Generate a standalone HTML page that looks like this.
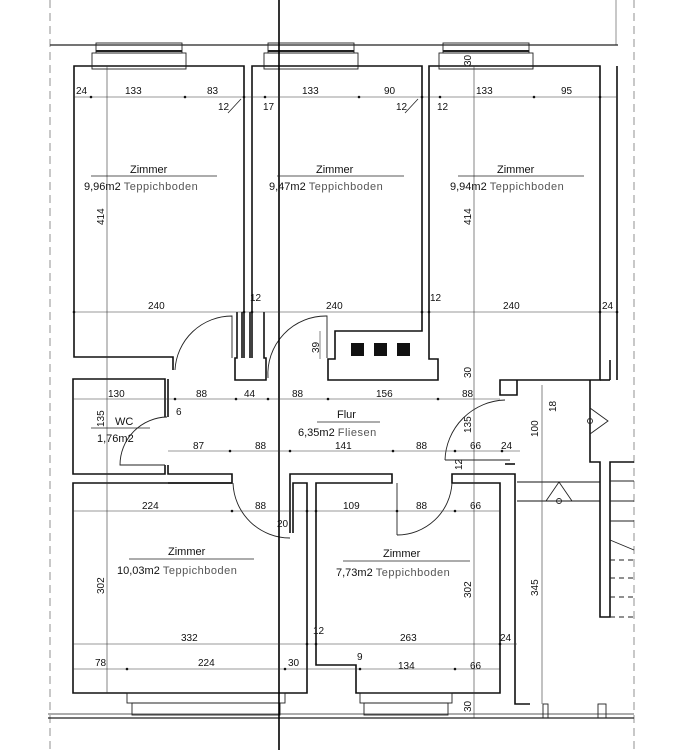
<!DOCTYPE html>
<html><head><meta charset="utf-8"><style>
html,body{margin:0;padding:0;background:#fff}
svg{display:block}
text{font-family:"Liberation Sans",sans-serif;fill:#111}
.t{font-size:11px}
.g{font-size:11px;fill:#555;letter-spacing:.5px}
.d{font-size:10px}
</style></head><body>
<svg width="684" height="750" viewBox="0 0 684 750" xmlns="http://www.w3.org/2000/svg">
<g fill="none" stroke="#222" stroke-width="0.8">
<line x1="50" y1="0" x2="50" y2="750" stroke-dasharray="8,5" stroke="#777"/>
<line x1="634" y1="0" x2="634" y2="750" stroke-dasharray="8,5" stroke="#777"/>
<line x1="616" y1="0" x2="616" y2="45" stroke="#777"/>
<line x1="50" y1="45" x2="618" y2="45" stroke-width="1.2"/>
<line x1="48" y1="718" x2="634" y2="718" stroke-width="1.2"/>
<line x1="48" y1="714" x2="634" y2="714"/>
</g>
<g fill="none" stroke="#111" stroke-width="1.6">
<polyline points="173,370 173,357 74,357 74,66 244,66 244,358"/>
<polyline points="252,358 252,66 422,66 422,331 335,331 335,359 328,359 328,380 438,380 438,359 429,359 429,66 600,66 600,380 500,380 500,395 517,395 517,380"/>
<line x1="617" y1="66" x2="617" y2="380"/>
<line x1="600" y1="380" x2="610" y2="380"/>
<line x1="610" y1="360" x2="610" y2="380"/>
<polyline points="237,312 237,358 235,358 235,380 266,380 266,358 264,358 264,312"/>
<line x1="242" y1="312" x2="242" y2="358"/>
<line x1="250" y1="312" x2="250" y2="358"/>
<polyline points="165,417 165,379 73,379 73,474 165,474 165,465"/>
<polyline points="168,417 168,379"/>
<polyline points="168,465 168,474 232,474 232,483 168,483"/>
<polyline points="290,533 290,474 392,474 392,483 316,483 316,665 356,665 356,693 500,693 500,483 452,483 452,474 515,474 515,704 530,704"/>
<polyline points="293,533 293,483 297,483"/>
<line x1="505" y1="464" x2="515" y2="464"/>
<polyline points="232,483 73,483 73,693 307,693 307,483 297,483"/>
<polyline points="590,380 590,462 600,462 600,617 610,617 610,462 634,462"/>
<line x1="517" y1="482" x2="600" y2="482" stroke-width="1"/>
<line x1="517" y1="501" x2="600" y2="501" stroke-width="1"/>
</g>
<g fill="none" stroke="#222" stroke-width="0.9">
<line x1="610" y1="481" x2="634" y2="481"/><line x1="610" y1="501" x2="634" y2="501"/><line x1="610" y1="521" x2="634" y2="521"/>
<line x1="610" y1="540" x2="634" y2="550"/>
<line x1="610" y1="560" x2="634" y2="560" stroke-dasharray="5,4"/><line x1="610" y1="578" x2="634" y2="578" stroke-dasharray="5,4"/><line x1="610" y1="597" x2="634" y2="597" stroke-dasharray="5,4"/><line x1="610" y1="617" x2="634" y2="617" stroke-dasharray="5,4"/>
<polyline points="590,408 608,421 590,434"/><circle cx="590" cy="421" r="2.5"/>
<polyline points="546,501 559,482 572,501"/><circle cx="559" cy="501" r="2.5"/>
<rect x="92" y="53" width="94" height="16"/><rect x="96" y="43" width="86" height="10"/><line x1="96" y1="51" x2="182" y2="51" stroke-width="2"/>
<rect x="264" y="53" width="94" height="16"/><rect x="268" y="43" width="86" height="10"/><line x1="268" y1="51" x2="354" y2="51" stroke-width="2"/>
<rect x="439" y="53" width="94" height="16"/><rect x="443" y="43" width="86" height="10"/><line x1="443" y1="51" x2="529" y2="51" stroke-width="2"/>
<rect x="127" y="693" width="158" height="10"/><rect x="132" y="703" width="148" height="12"/>
<rect x="360" y="693" width="92" height="10"/><rect x="364" y="703" width="84" height="12"/>
<rect x="543" y="704" width="5" height="14"/>
<rect x="598" y="704" width="8" height="14"/>
<path d="M175,370 A57,57 0 0 1 232,316 L232,358"/>
<path d="M268,378 A58,58 0 0 1 327,316 L327,358"/>
<path d="M167,417 A48,48 0 0 0 120,465 L165,465"/>
<path d="M445,460 A62,62 0 0 1 505,400"/><line x1="445" y1="460" x2="510" y2="460"/>
<path d="M233,483 A57,57 0 0 0 290,538"/>
<path d="M397,535 A55,55 0 0 0 452,483"/><line x1="397" y1="483" x2="397" y2="535"/>
</g>
<rect x="351" y="343" width="13" height="13" fill="#111"/>
<rect x="374" y="343" width="13" height="13" fill="#111"/>
<rect x="397" y="343" width="13" height="13" fill="#111"/>
<line x1="279" y1="0" x2="279" y2="750" stroke="#000" stroke-width="1.6"/>
<g stroke="#333" stroke-width="0.6" fill="none">
<line x1="74" y1="97" x2="617" y2="97"/>
<line x1="74" y1="312" x2="617" y2="312"/>
<line x1="73" y1="399" x2="500" y2="399"/>
<line x1="168" y1="451" x2="520" y2="451"/>
<line x1="73" y1="511" x2="500" y2="511"/>
<line x1="73" y1="644" x2="517" y2="644"/>
<line x1="73" y1="669" x2="500" y2="669"/>
<line x1="107" y1="66" x2="107" y2="693"/>
<line x1="474" y1="66" x2="474" y2="718"/>
<line x1="542" y1="385" x2="542" y2="704"/>
<line x1="320" y1="331" x2="320" y2="359"/>
</g>
<g fill="#111">
<circle cx="91" cy="97" r="1.3"/><circle cx="185" cy="97" r="1.3"/><circle cx="244" cy="97" r="1.3"/><circle cx="265" cy="97" r="1.3"/><circle cx="359" cy="97" r="1.3"/><circle cx="422" cy="97" r="1.3"/><circle cx="440" cy="97" r="1.3"/><circle cx="534" cy="97" r="1.3"/><circle cx="600" cy="97" r="1.3"/>
<circle cx="74" cy="312" r="1.3"/><circle cx="244" cy="312" r="1.3"/><circle cx="252" cy="312" r="1.3"/><circle cx="422" cy="312" r="1.3"/><circle cx="429" cy="312" r="1.3"/><circle cx="600" cy="312" r="1.3"/><circle cx="617" cy="312" r="1.3"/>
<circle cx="175" cy="399" r="1.3"/><circle cx="236" cy="399" r="1.3"/><circle cx="268" cy="399" r="1.3"/><circle cx="328" cy="399" r="1.3"/><circle cx="438" cy="399" r="1.3"/>
<circle cx="230" cy="451" r="1.3"/><circle cx="290" cy="451" r="1.3"/><circle cx="393" cy="451" r="1.3"/><circle cx="455" cy="451" r="1.3"/><circle cx="502" cy="451" r="1.3"/>
<circle cx="232" cy="511" r="1.3"/><circle cx="307" cy="511" r="1.3"/><circle cx="316" cy="511" r="1.3"/><circle cx="397" cy="511" r="1.3"/><circle cx="455" cy="511" r="1.3"/>
<circle cx="307" cy="644" r="1.3"/><circle cx="316" cy="644" r="1.3"/><circle cx="500" cy="644" r="1.3"/>
<circle cx="127" cy="669" r="1.3"/><circle cx="285" cy="669" r="1.3"/><circle cx="360" cy="669" r="1.3"/><circle cx="455" cy="669" r="1.3"/>
</g>
<g class="d">
<text x="76" y="94">24</text><text x="125" y="94">133</text><text x="207" y="94">83</text>
<text x="302" y="94">133</text><text x="384" y="94">90</text>
<text x="476" y="94">133</text><text x="561" y="94">95</text>
<text x="218" y="110">12</text><text x="263" y="110">17</text><text x="396" y="110">12</text><text x="437" y="110">12</text>
<text x="148" y="309">240</text><text x="326" y="309">240</text><text x="503" y="309">240</text>
<text x="250" y="301">12</text><text x="430" y="301">12</text><text x="602" y="309">24</text>
<text x="108" y="397">130</text><text x="196" y="397">88</text><text x="244" y="397">44</text><text x="292" y="397">88</text><text x="376" y="397">156</text><text x="462" y="397">88</text>
<text x="176" y="415">6</text>
<text x="193" y="449">87</text><text x="255" y="449">88</text><text x="335" y="449">141</text><text x="416" y="449">88</text><text x="470" y="449">66</text><text x="501" y="449">24</text>
<text x="142" y="509">224</text><text x="255" y="509">88</text><text x="343" y="509">109</text><text x="416" y="509">88</text><text x="470" y="509">66</text>
<text x="277" y="527">20</text>
<text x="181" y="641">332</text><text x="400" y="641">263</text><text x="500" y="641">24</text><text x="313" y="634">12</text>
<text x="95" y="666">78</text><text x="198" y="666">224</text><text x="288" y="666">30</text><text x="357" y="660">9</text><text x="398" y="669">134</text><text x="470" y="669">66</text>
<text transform="translate(104,225) rotate(-90)">414</text>
<text transform="translate(471,225) rotate(-90)">414</text>
<text transform="translate(104,427) rotate(-90)">135</text>
<text transform="translate(471,433) rotate(-90)">135</text>
<text transform="translate(538,437) rotate(-90)">100</text>
<text transform="translate(556,412) rotate(-90)">18</text>
<text transform="translate(104,594) rotate(-90)">302</text>
<text transform="translate(471,598) rotate(-90)">302</text>
<text transform="translate(538,596) rotate(-90)">345</text>
<text transform="translate(319,353) rotate(-90)">39</text>
<text transform="translate(471,378) rotate(-90)">30</text>
<text transform="translate(471,66) rotate(-90)">30</text>
<text transform="translate(471,712) rotate(-90)">30</text>
<text transform="translate(462,470) rotate(-90)">12</text>
</g>
<g class="t">
<text x="130" y="173">Zimmer</text><text x="84" y="190">9,96m2 <tspan class="g">Teppichboden</tspan></text>
<text x="316" y="173">Zimmer</text><text x="269" y="190">9,47m2 <tspan class="g">Teppichboden</tspan></text>
<text x="497" y="173">Zimmer</text><text x="450" y="190">9,94m2 <tspan class="g">Teppichboden</tspan></text>
<text x="115" y="425">WC</text><text x="97" y="442">1,76m2</text>
<text x="337" y="418">Flur</text><text x="298" y="436">6,35m2 <tspan class="g">Fliesen</tspan></text>
<text x="168" y="555">Zimmer</text><text x="117" y="574">10,03m2 <tspan class="g">Teppichboden</tspan></text>
<text x="383" y="557">Zimmer</text><text x="336" y="576">7,73m2 <tspan class="g">Teppichboden</tspan></text>
</g>
<g stroke="#222" stroke-width="0.8">
<line x1="91" y1="176" x2="217" y2="176"/><line x1="277" y1="176" x2="404" y2="176"/><line x1="458" y1="176" x2="584" y2="176"/>
<line x1="91" y1="428" x2="150" y2="428"/><line x1="317" y1="422" x2="380" y2="422"/>
<line x1="129" y1="559" x2="254" y2="559"/><line x1="343" y1="561" x2="470" y2="561"/>
<line x1="228" y1="113" x2="241" y2="99"/><line x1="405" y1="113" x2="418" y2="99"/>
</g>
</svg>
</body></html>
